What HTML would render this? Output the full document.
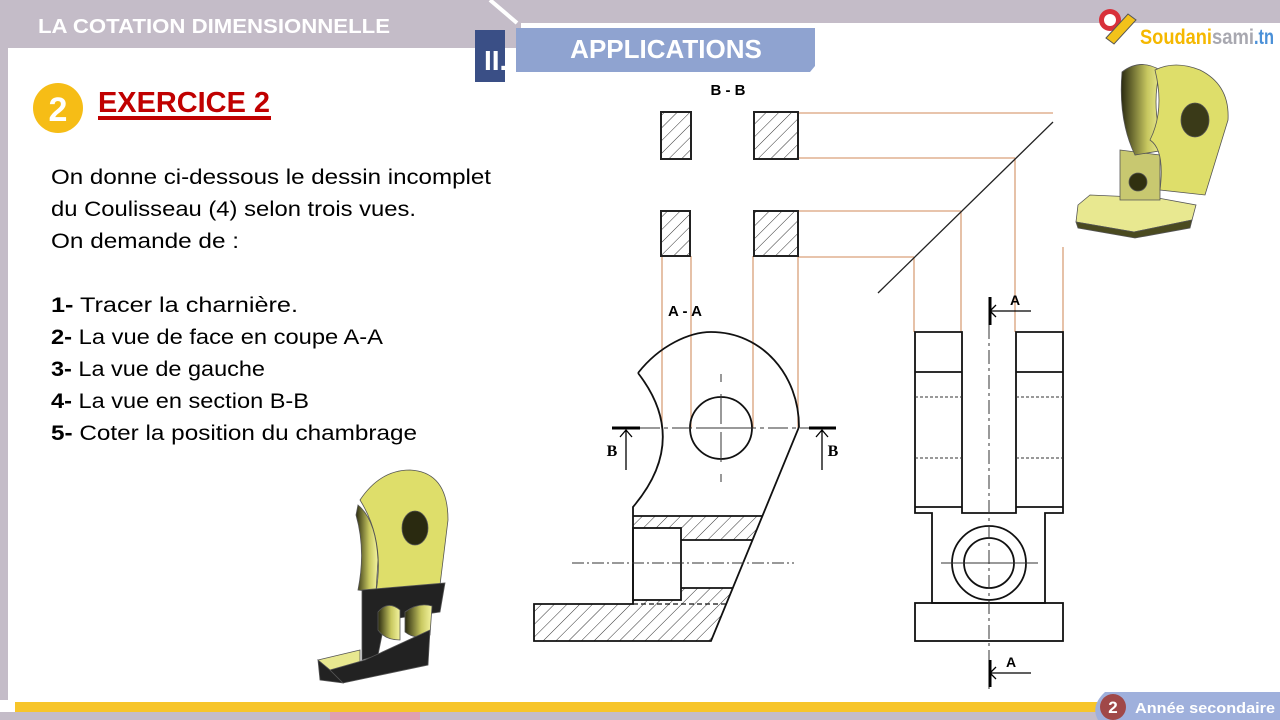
<!DOCTYPE html>
<html><head><meta charset="utf-8"><style>
html,body{margin:0;padding:0;background:#fff;}
svg{display:block;font-family:"Liberation Sans",sans-serif;}
</style></head><body>
<svg width="1280" height="720" viewBox="0 0 1280 720" xmlns="http://www.w3.org/2000/svg">
<defs>
<pattern id="h" patternUnits="userSpaceOnUse" width="9" height="9" patternTransform="rotate(45)">
<rect width="9" height="9" fill="#fff"/><line x1="0" y1="0" x2="0" y2="9" stroke="#333" stroke-width="1"/>
</pattern>
<linearGradient id="yg" x1="0" y1="0" x2="1" y2="0"><stop offset="0" stop-color="#2a2a10"/><stop offset="0.6" stop-color="#c8c860"/><stop offset="1" stop-color="#f4f4a0"/></linearGradient>
</defs>
<rect width="1280" height="720" fill="#fff"/>
<polygon points="0,0 1280,0 1280,23 521,23 521,48 8,48 8,700 0,700" fill="#c4bcc8"/>
<line x1="490" y1="0" x2="517" y2="23" stroke="#fff" stroke-width="4"/>
<text x="38" y="33" font-size="20" font-weight="bold" fill="#fff" textLength="352" lengthAdjust="spacingAndGlyphs">LA COTATION DIMENSIONNELLE</text>
<rect x="475" y="30" width="30" height="52" fill="#3a4f86"/>
<text x="484" y="70" font-size="28" font-weight="bold" fill="#fff">II.</text>
<polygon points="516,28 815,28 815,66 810,72 516,72" fill="#8fa3d0"/>
<text x="666" y="58" font-size="26" font-weight="bold" fill="#fff" text-anchor="middle">APPLICATIONS</text>
<circle cx="1110" cy="20" r="11" fill="#d8303a"/>
<circle cx="1110" cy="20" r="6" fill="#fff"/>
<polygon points="1106,38 1128,14 1136,20 1114,44" fill="#f3c21a" stroke="#555" stroke-width="1"/>
<text x="1140" y="44" font-size="21" font-weight="bold" fill="#f5b800" textLength="72" lengthAdjust="spacingAndGlyphs">Soudani</text>
<text x="1212" y="44" font-size="21" font-weight="bold" fill="#a8a8b0" textLength="42" lengthAdjust="spacingAndGlyphs">sami</text>
<text x="1254" y="44" font-size="21" font-weight="bold" fill="#4a90d8" textLength="20" lengthAdjust="spacingAndGlyphs">.tn</text>
<circle cx="58" cy="108" r="25" fill="#f6bd16"/>
<text x="58" y="121" font-size="34" font-weight="bold" fill="#fff" text-anchor="middle">2</text>
<text x="98" y="112" font-size="29" font-weight="bold" fill="#c00000" textLength="172" lengthAdjust="spacingAndGlyphs">EXERCICE 2</text>
<rect x="98" y="116" width="173" height="4" fill="#c00000"/>
<g font-size="21" fill="#000">
<text x="51" y="184" textLength="440" lengthAdjust="spacingAndGlyphs">On donne ci-dessous le dessin incomplet</text>
<text x="51" y="216" textLength="365" lengthAdjust="spacingAndGlyphs">du Coulisseau (4) selon trois vues.</text>
<text x="51" y="248" textLength="188" lengthAdjust="spacingAndGlyphs">On demande de :</text>
<text x="51" y="312" textLength="247" lengthAdjust="spacingAndGlyphs"><tspan font-weight="bold">1-</tspan> Tracer la charnière.</text>
<text x="51" y="344" textLength="332" lengthAdjust="spacingAndGlyphs"><tspan font-weight="bold">2-</tspan> La vue de face en coupe A-A</text>
<text x="51" y="376" textLength="214" lengthAdjust="spacingAndGlyphs"><tspan font-weight="bold">3-</tspan> La vue de gauche</text>
<text x="51" y="408" textLength="258" lengthAdjust="spacingAndGlyphs"><tspan font-weight="bold">4-</tspan> La vue en section B-B</text>
<text x="51" y="440" textLength="366" lengthAdjust="spacingAndGlyphs"><tspan font-weight="bold">5-</tspan> Coter la position du chambrage</text>
</g>
<g stroke="#d9a07a" stroke-width="1.3" fill="none">
<path d="M798,113H1053 M798,158H1015 M798,211H961 M798,257H914"/>
<path d="M1015,158V332 M961,211V332 M914,257V332 M1063,247V332"/>
<path d="M662,256V428 M691,256V428 M753,256V428 M798,256V428"/>
</g>
<line x1="1053" y1="122" x2="878" y2="293" stroke="#222" stroke-width="1.3"/>
<text x="728" y="95" font-size="15" font-weight="bold" text-anchor="middle">B - B</text>
<g stroke="#222" stroke-width="2" fill="url(#h)">
<rect x="661" y="112" width="30" height="47"/>
<rect x="754" y="112" width="44" height="47"/>
<rect x="661" y="211" width="29" height="45"/>
<rect x="754" y="211" width="44" height="45"/>
</g>
<text x="685" y="316" font-size="15" font-weight="bold" text-anchor="middle">A - A</text>
<g stroke="#111" stroke-width="1.8" fill="none">
<polygon points="633,516 762,516 752.5,540 681,540 681,528 633,528" fill="url(#h)" stroke="none"/>
<polygon points="534,604 633,604 633,600 681,600 681,588 733,588 711,641 534,641" fill="url(#h)" stroke="none"/>
<path d="M638,373 C660,345 690,332 711,332 C762,332 799,375 799,427 L711,641 L534,641 L534,604 L633,604 L633,507 Q690,440 638,373"/>
<path d="M633,516H762 M681,540H752 M681,588H733"/>
<rect x="633" y="528" width="48" height="72"/>
<circle cx="721" cy="428" r="31"/>
</g>
<path d="M633,604H726" stroke="#111" stroke-width="1.3" stroke-dasharray="5,3"/>
<g stroke="#333" stroke-width="1">
<path d="M721,374V483" stroke-dasharray="8,12,30,8,30,12"/>
<path d="M700,428H742"/>
<path d="M572,563H794" stroke-dasharray="12,3,2,3"/>
<path d="M640,428H809" stroke-dasharray="20,4,4,4"/>
</g>
<g stroke="#000">
<path d="M612,428H640 M809,428H836" stroke-width="3"/>
<path d="M626,430V470 M822,430V470 M620,437L626,430L632,437 M816,437L822,430L828,437" stroke-width="1.3" fill="none"/>
</g>
<text x="612" y="456" font-size="16" font-weight="bold" font-family="Liberation Serif,serif" text-anchor="middle">B</text>
<text x="833" y="456" font-size="16" font-weight="bold" font-family="Liberation Serif,serif" text-anchor="middle">B</text>
<g stroke="#111" stroke-width="1.8" fill="none">
<path d="M915,332H962V513H1016V332H1063V513H1045V603H932V513H915Z"/>
<path d="M915,372H962 M1016,372H1063 M915,507H962 M1016,507H1063"/>
<rect x="915" y="603" width="148" height="38"/>
<circle cx="989" cy="563" r="37"/>
<circle cx="989" cy="563" r="25"/>
</g>
<g stroke="#333" stroke-width="1" stroke-dasharray="3,2">
<path d="M915,397H962 M1016,397H1063 M915,458H962 M1016,458H1063"/>
</g>
<g stroke="#333" stroke-width="1">
<path d="M989,300V690" stroke-dasharray="14,4,3,4"/>
<path d="M941,563H1038"/>
</g>
<g stroke="#000" fill="none">
<path d="M990,297V325 M990,660V687" stroke-width="3"/>
<path d="M990,311H1031 M996,305L990,311L996,317 M990,673H1031 M996,667L990,673L996,679" stroke-width="1.3"/>
</g>
<text x="1010" y="305" font-size="14" font-weight="bold">A</text>
<text x="1006" y="667" font-size="14" font-weight="bold">A</text>
<!-- 3D model top right -->
<g stroke="#555" stroke-width="0.8">
<polygon points="1078,205 1090,195 1158,198 1196,205 1192,220 1134,232 1076,222" fill="#e8e890"/>
<polygon points="1076,222 1134,232 1192,220 1190,228 1135,238 1078,228" fill="#4a4a20"/>
<polygon points="1120,150 1160,155 1160,200 1120,200" fill="#c8c870"/>
<circle cx="1138" cy="182" r="9" fill="#303010"/>
<path d="M1122,72 Q1140,58 1160,70 Q1150,110 1165,150 L1135,155 Q1118,120 1122,72Z" fill="url(#yg)"/>
<path d="M1155,70 Q1175,60 1200,70 Q1230,85 1228,120 L1205,195 L1160,190 Q1165,150 1150,140 Q1165,110 1155,70Z" fill="#dede6a"/>
<ellipse cx="1195" cy="120" rx="14" ry="17" fill="#3a3a18"/>
</g>
<!-- 3D model bottom left -->
<g stroke="#555" stroke-width="0.8">
<path d="M360,500 Q380,470 410,470 Q448,472 448,520 L440,585 L376,592 Q385,540 360,500Z" fill="#dede6a"/>
<path d="M358,505 Q376,520 378,560 L376,592 L358,590 Q366,550 356,515Z" fill="url(#yg)"/>
<ellipse cx="415" cy="528" rx="13" ry="17" fill="#2a2a10"/>
<polygon points="362,590 445,583 440,612 385,620 378,655 362,660" fill="#222"/>
<path d="M378,612 Q388,600 400,610 L400,640 Q385,640 378,630Z" fill="url(#yg)"/>
<path d="M405,612 Q418,602 432,606 L430,635 Q415,640 405,632Z" fill="url(#yg)"/>
<polygon points="318,660 360,650 360,665 330,670" fill="#e8e890"/>
<polygon points="318,660 330,670 343,683 320,680" fill="#222"/>
<polygon points="330,670 365,660 430,630 428,665 343,683" fill="#222"/>
</g>
<rect x="15" y="702" width="1085" height="10" fill="#f7c52a"/>
<rect x="0" y="712" width="1280" height="8" fill="#c4bcc8"/>
<rect x="330" y="712" width="90" height="8" fill="#e0a0b0"/>
<path d="M1105,692H1280V720H1098Q1090,706 1105,692Z" fill="#9fb0dc"/>
<circle cx="1113" cy="707" r="13" fill="#a04848"/>
<text x="1113" y="713" font-size="17" font-weight="bold" fill="#fff" text-anchor="middle">2</text>
<text x="1135" y="713" font-size="15" font-weight="bold" fill="#fff" textLength="140" lengthAdjust="spacingAndGlyphs">Année secondaire</text>
</svg>
</body></html>
